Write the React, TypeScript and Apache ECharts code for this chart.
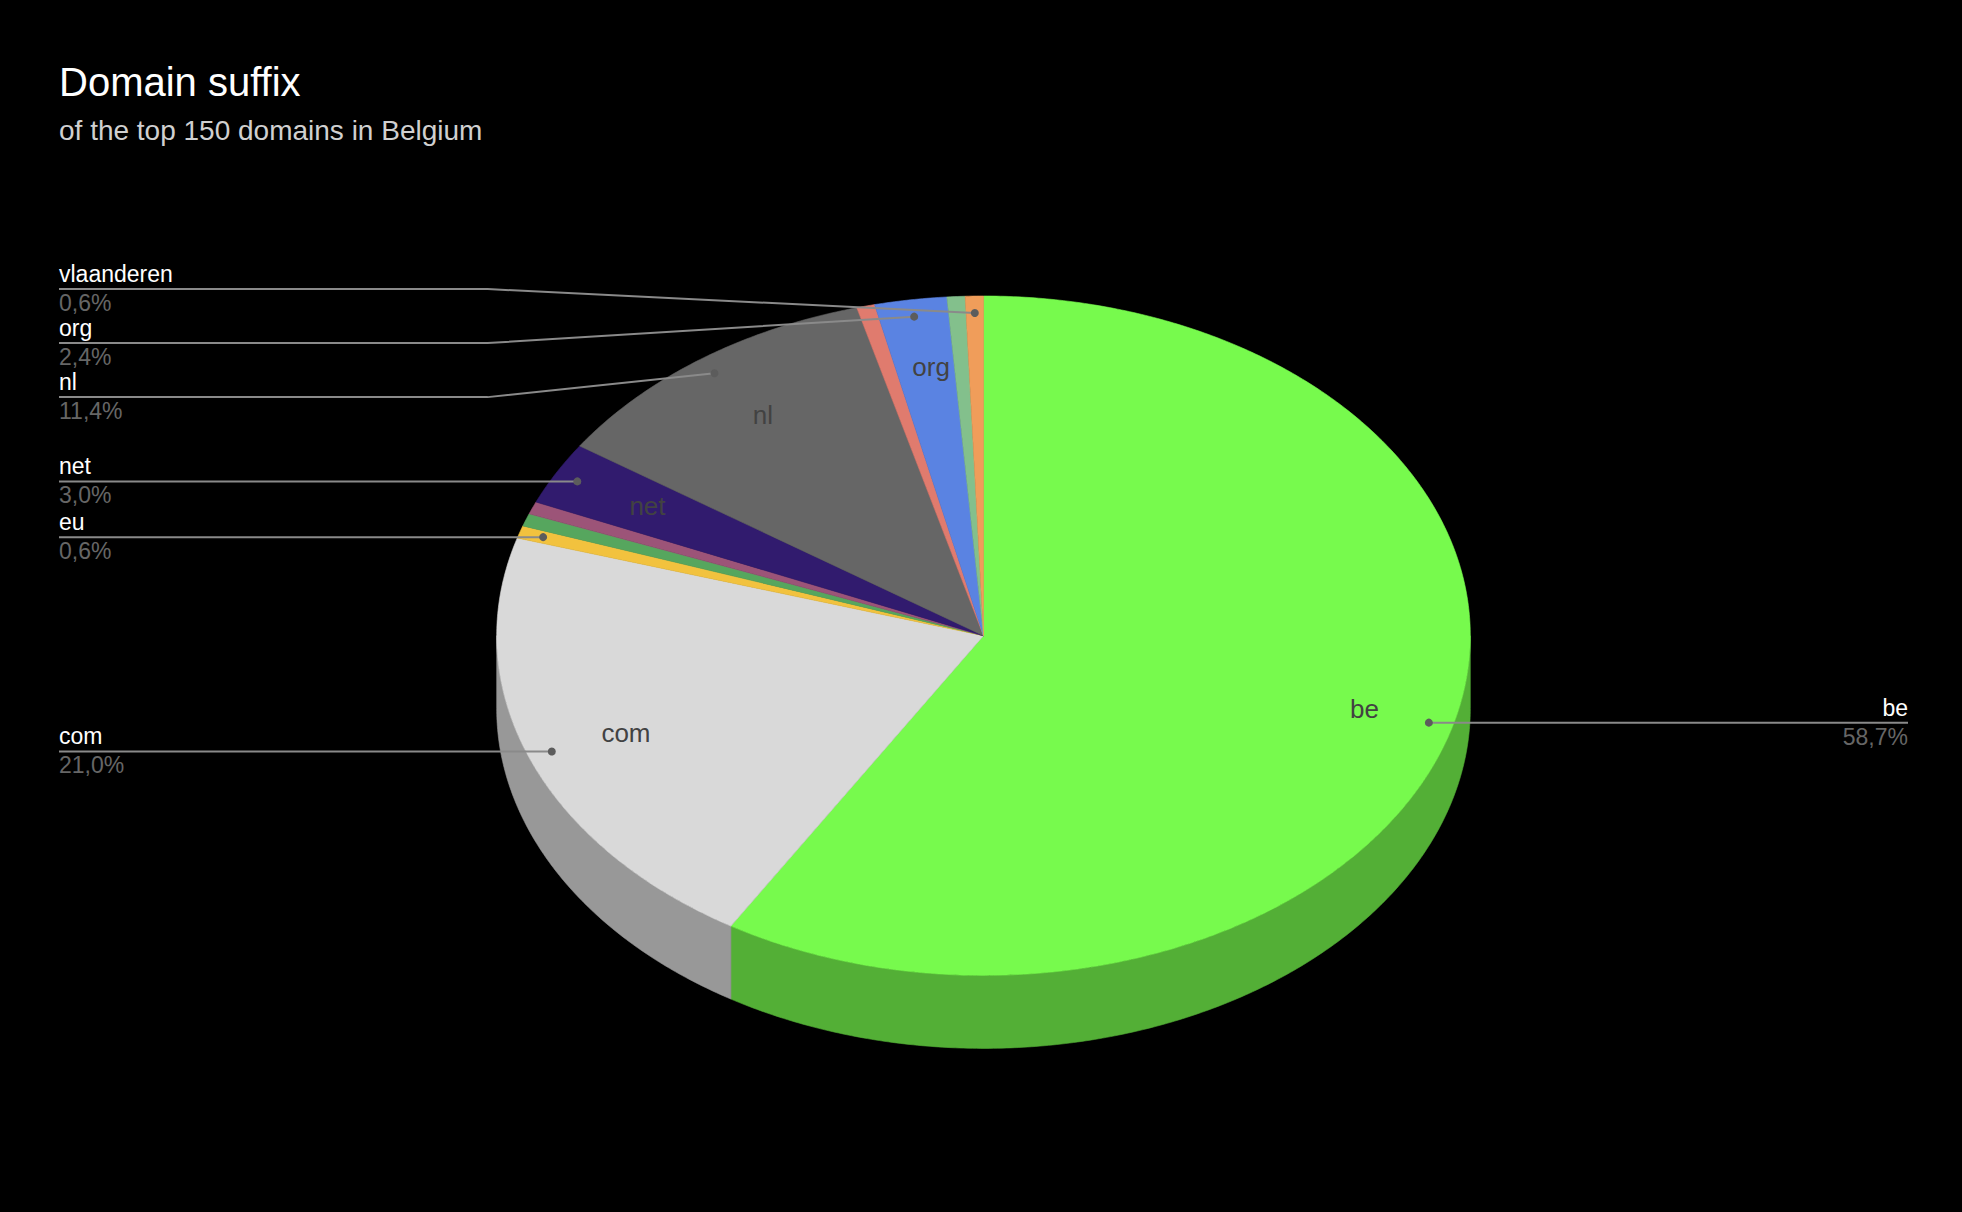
import React, { useEffect, useRef } from "react";
import * as echarts from "echarts";

// ---- data ----
const TITLE = "Domain suffix";
const SUBTITLE = "of the top 150 domains in Belgium";
// clockwise from 12 o'clock; unnamed slices are not labelled in the reference
const sliceNames = ["be", "com", "eu", "", "", "net", "nl", "", "org", "", "vlaanderen"];
const sliceValues = [98, 35, 1, 1, 1, 5, 19, 1, 4, 1, 1];
const sliceColors = [
  "#77fa4d", "#d9d9d9", "#f2c23e", "#56a65e", "#9c5478", "#311b6e",
  "#666666", "#e07b6e", "#5a83e2", "#83c08c", "#f09d5a",
];

// ---- layout ----
const W = 1962;
const H = 1212;
const CX = 983.5;
const CY = 635.7;
const RX = 486.8;
const RY = 339.7;
const DEPTH = 73;
const FONT = "'Liberation Sans', Arial, Helvetica, sans-serif";
const LEFT_X = 59;
const RIGHT_X = 1908;
const LABEL_GAP = 54;

const total = sliceValues.reduce((a, b) => a + b, 0);
const starts: number[] = [];
{
  let acc = 0;
  sliceValues.forEach((v) => {
    starts.push(acc);
    acc += v;
  });
}
const TAU = Math.PI * 2;

function pt(theta: number, k = 1, dy = 0): number[] {
  return [CX + k * RX * Math.sin(theta), CY - k * RY * Math.cos(theta) + dy];
}
function arc(a0: number, a1: number, dy = 0): number[][] {
  const n = Math.max(2, Math.ceil((Math.abs(a1 - a0) / TAU) * 720));
  const out: number[][] = [];
  for (let j = 0; j <= n; j++) out.push(pt(a0 + ((a1 - a0) * j) / n, 1, dy));
  return out;
}
function shade(hex: string, f = 0.7): string {
  const n = parseInt(hex.slice(1), 16);
  const r = Math.round(((n >> 16) & 255) * f);
  const g = Math.round(((n >> 8) & 255) * f);
  const b = Math.round((n & 255) * f);
  return `rgb(${r},${g},${b})`;
}
function pct(v: number): string {
  return ((v / total) * 100).toFixed(1).replace(".", ",") + "%";
}

// label layout derived from data
type Lab = { i: number; left: boolean; dot: number[]; want: number; y: number };
const labs: Lab[] = [];
sliceNames.forEach((name, i) => {
  if (!name) return;
  const mid = ((starts[i] + sliceValues[i] / 2) / total) * TAU;
  const dot = pt(mid, 0.95);
  labs.push({ i, left: Math.sin(mid) < 0, dot, want: dot[1], y: dot[1] });
});
function resolve(list: Lab[]) {
  const sorted = [...list].sort((a, b) => a.want - b.want);
  const groups = sorted.map((l) => [l]);
  const place = (g: Lab[]) => {
    const c = (g[0].want + g[g.length - 1].want) / 2;
    g.forEach((l, j) => (l.y = c + (j - (g.length - 1) / 2) * LABEL_GAP));
  };
  let merged = true;
  while (merged) {
    merged = false;
    groups.forEach(place);
    for (let j = 0; j < groups.length - 1; j++) {
      const a = groups[j];
      const b = groups[j + 1];
      if (a[a.length - 1].y + LABEL_GAP > b[0].y) {
        groups.splice(j, 2, [...a, ...b]);
        merged = true;
        break;
      }
    }
  }
}
resolve(labs.filter((l) => l.left));
resolve(labs.filter((l) => !l.left));

const sliceData = sliceValues.map((v, i) => [v, starts[i] / total, (starts[i] + v) / total]);

export default function App() {
  const ref = useRef<HTMLDivElement>(null);
  useEffect(() => {
    if (!ref.current) return;
    const chart = echarts.init(ref.current, undefined, { renderer: "svg" });
    const option: any = {
      animation: false,
      backgroundColor: "#000000",
      title: {
        text: TITLE,
        subtext: SUBTITLE,
        left: LEFT_X - 5,
        top: 57,
        itemGap: 14,
        textStyle: { color: "#ffffff", fontSize: 40, fontWeight: "normal", fontFamily: FONT },
        subtextStyle: { color: "#d0d0d0", fontSize: 28, fontFamily: FONT },
      },
      series: [
        {
          type: "custom",
          coordinateSystem: "none",
          silent: true,
          data: sliceData,
          renderItem: (params: any, api: any) => {
            const a0 = Math.max(api.value(1) * TAU, Math.PI / 2);
            const a1 = Math.min(api.value(2) * TAU, (Math.PI * 3) / 2);
            if (a1 <= a0) return { type: "group", children: [] };
            const c = shade(sliceColors[params.dataIndex]);
            const pts = [...arc(a0, a1, 0), ...arc(a1, a0, DEPTH)];
            return {
              type: "polygon",
              shape: { points: pts },
              style: { fill: c, stroke: c, lineWidth: 0.6 },
            };
          },
        },
        {
          type: "custom",
          coordinateSystem: "none",
          silent: true,
          data: sliceData,
          renderItem: (params: any, api: any) => {
            const a0 = api.value(1) * TAU;
            const a1 = api.value(2) * TAU;
            const c = sliceColors[params.dataIndex];
            return {
              type: "polygon",
              shape: { points: [[CX, CY], ...arc(a0, a1, 0)] },
              style: { fill: c, stroke: c, lineWidth: 0.6 },
            };
          },
        },
        {
          type: "custom",
          coordinateSystem: "none",
          silent: true,
          data: sliceData,
          renderItem: (params: any, api: any) => {
            const i = params.dataIndex;
            const frac = api.value(0) / total;
            if (!sliceNames[i] || frac < 0.02) return { type: "group", children: [] };
            const mid = ((api.value(1) + api.value(2)) / 2) * TAU;
            const p = pt(mid, 0.8);
            return {
              type: "text",
              style: {
                text: sliceNames[i],
                x: p[0] + 6,
                y: p[1],
                fill: "#424242",
                fontSize: 26,
                fontFamily: FONT,
                align: "center",
                verticalAlign: "middle",
              },
            };
          },
        },
        {
          type: "custom",
          coordinateSystem: "none",
          silent: true,
          data: labs.map((l) => [sliceValues[l.i], l.i]),
          renderItem: (params: any, api: any) => {
            const l = labs[params.dataIndex];
            const i = api.value(1);
            const ly = l.y;
            const elbowX = l.left ? CX - RX - 9 : CX + RX + 9;
            const pts = l.left
              ? [[LEFT_X, ly], [elbowX, ly], l.dot]
              : [l.dot, [elbowX, ly], [RIGHT_X, ly]];
            const tx = l.left ? LEFT_X : RIGHT_X;
            const align = l.left ? "left" : "right";
            return {
              type: "group",
              children: [
                {
                  type: "polyline",
                  shape: { points: pts },
                  style: { stroke: "#8a8a8a", lineWidth: 2, fill: null },
                },
                {
                  type: "circle",
                  shape: { cx: l.dot[0], cy: l.dot[1], r: 4 },
                  style: { fill: "#5c5c5c" },
                },
                {
                  type: "text",
                  style: {
                    text: sliceNames[i],
                    x: tx,
                    y: ly - 15,
                    fill: "#ffffff",
                    fontSize: 23,
                    fontFamily: FONT,
                    align,
                    verticalAlign: "middle",
                  },
                },
                {
                  type: "text",
                  style: {
                    text: pct(api.value(0)),
                    x: tx,
                    y: ly + 14,
                    fill: "#666666",
                    fontSize: 23,
                    fontFamily: FONT,
                    align,
                    verticalAlign: "middle",
                  },
                },
              ],
            };
          },
        },
      ],
    };
    chart.setOption(option);
    return () => chart.dispose();
  }, []);
  return (
    <div
      ref={ref}
      style={{ position: "fixed", left: 0, top: 0, width: W, height: H, background: "#000" }}
    />
  );
}
